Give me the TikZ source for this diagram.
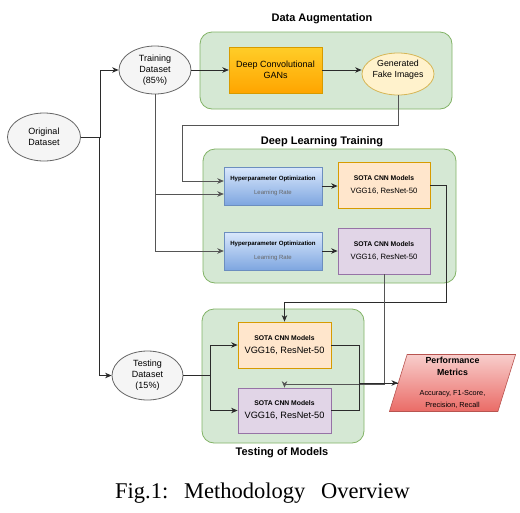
\documentclass[tikz,border=0pt]{standalone}
\usepackage{fontspec}
\setmainfont{Liberation Sans}
\newfontfamily\capfont{Liberation Serif}
\usetikzlibrary{arrows.meta,shapes.geometric}
\definecolor{grnF}{HTML}{D5E8D4}
\definecolor{grnD}{HTML}{82B366}
\definecolor{ellF}{HTML}{F5F5F5}
\definecolor{ellD}{HTML}{666666}
\definecolor{ganT}{HTML}{FFCD28}
\definecolor{ganB}{HTML}{FFA500}
\definecolor{ganD}{HTML}{D79B00}
\definecolor{fakF}{HTML}{FFF2CC}
\definecolor{fakD}{HTML}{D6B656}
\definecolor{hpT}{HTML}{DAE8FC}
\definecolor{hpB}{HTML}{7EA6E0}
\definecolor{hpD}{HTML}{6C8EBF}
\definecolor{orF}{HTML}{FFE6CC}
\definecolor{orD}{HTML}{D79B00}
\definecolor{puF}{HTML}{E1D5E7}
\definecolor{puD}{HTML}{9673A6}
\definecolor{pmT}{HTML}{F8CECC}
\definecolor{pmB}{HTML}{EA6B66}
\definecolor{pmD}{HTML}{B85450}
\definecolor{lnC}{HTML}{2B2B2B}
\definecolor{lnG}{HTML}{555555}
\tikzset{
  grp/.style={draw=grnD, fill=grnF, rounded corners=12pt, line width=0.8pt},
  ttl/.style={font=\fontsize{11}{13}\selectfont\bfseries},
  ell/.style={ellipse, draw=ellD, fill=ellF, inner sep=0pt, align=center, line width=0.8pt,
              font=\fontsize{9}{11}\selectfont},
  ganbox/.style={rectangle, draw=ganD, top color=ganT, bottom color=ganB, minimum width=93pt,
              minimum height=46pt, inner sep=0pt, align=center, font=\fontsize{9}{11}\selectfont},
  hpbox/.style={rectangle, draw=hpD, top color=hpT, bottom color=hpB, minimum width=98pt,
              minimum height=38pt, inner sep=0pt, align=center},
  sotabox/.style={rectangle, line width=0.8pt, minimum width=92pt, minimum height=46pt,
              inner sep=0pt, align=center},
  arr/.style={draw=lnC, line width=0.8pt, -{Stealth[length=6.5pt,width=5.5pt]}},
  ln/.style={draw=lnC, line width=0.8pt},
  arrg/.style={draw=lnG, line width=0.8pt, -{Stealth[length=6.5pt,width=5.5pt]}},
}
\newcommand{\hpsmall}{{\fontsize{6.1}{7}\selectfont\bfseries Hyperparameter Optimization}\\[2pt]{\fontsize{6}{7}\selectfont\color{ellD} Learning Rate}}
\begin{document}
\begin{tikzpicture}[x=1pt,y=-1pt]
\useasboundingbox[fill=white] (0,0) rectangle (520,512);
% groups
\draw[grp] (200,32) rectangle (452,109);
\draw[grp] (203,149) rectangle (456,283);
\draw[grp] (202,309) rectangle (364,443);
\node[ttl] (t1) at (322,19) {Data Augmentation};
\node[ttl] (t2) at (322,142) {Deep Learning Training};
\node[ttl] (t3) at (282,453) {Testing of Models};
% nodes
\node[ell, minimum width=73pt, minimum height=48pt] (orig) at (44,137) {Original\\Dataset};
\node[ell, minimum width=72pt, minimum height=48pt] (train) at (155,70) {Training\\Dataset\\(85\%)};
\node[ganbox] (gan) at (275.5,70) {Deep Convolutional\\GANs};
\node[ell, draw=fakD, fill=fakF, minimum width=72pt, minimum height=42pt,
      label={[align=center, yshift=4pt, font=\fontsize{8.8}{11}\selectfont]center:Generated\\Fake Images}] (fake) at (398,74) {};
\node[hpbox] (hp1) at (273,186) {\hpsmall};
\node[hpbox] (hp2) at (273,251) {\hpsmall};
\node[sotabox, draw=orD, fill=orF] (sota1) at (384,185)
  {{\fontsize{6.8}{8}\selectfont\bfseries SOTA CNN Models}\\[1pt]{\fontsize{7.7}{9}\selectfont VGG16, ResNet-50}};
\node[sotabox, draw=puD, fill=puF] (sota2) at (384,251)
  {{\fontsize{6.8}{8}\selectfont\bfseries SOTA CNN Models}\\[1pt]{\fontsize{7.7}{9}\selectfont VGG16, ResNet-50}};
\node[ell, minimum width=71pt, minimum height=49pt] (test) at (147.5,375.5) {Testing\\Dataset\\(15\%)};
\node[sotabox, draw=orD, fill=orF, minimum width=93pt] (tsota1) at (284.5,345)
  {{\fontsize{6.8}{8}\selectfont\bfseries SOTA CNN Models}\\[1pt]{\fontsize{9.2}{11}\selectfont VGG16, ResNet-50}};
\node[sotabox, draw=puD, fill=puF, minimum width=93pt, minimum height=45pt] (tsota2) at (284.5,410.5)
  {{\fontsize{6.8}{8}\selectfont\bfseries SOTA CNN Models}\\[1pt]{\fontsize{9.2}{11}\selectfont VGG16, ResNet-50}};
\node[trapezium, trapezium left angle=76, trapezium right angle=104, trapezium stretches=true,
      minimum width=127pt, minimum height=57pt, inner sep=0pt, draw=pmD, line width=0.6pt,
      top color=pmT, bottom color=pmB, align=center] (pm) at (452.5,383)
  {{\fontsize{8.8}{10}\selectfont\bfseries Performance}\\{\fontsize{8.8}{10}\selectfont\bfseries Metrics}\\[8pt]
   {\fontsize{7.3}{11.5}\selectfont Accuracy, F1-Score,}\\{\fontsize{7.3}{9}\selectfont Precision, Recall}};
% connectors
\draw[arr] (orig.east) -- ++(19,0) |- (train.west);
\draw[arr] (orig.east) -- ++(18,0) |- (test.west);
\draw[arr] (train.east) -- (gan.west);
\draw[arr] (gan.east) -- (fake.west |- gan.east);
\draw[arrg] (fake.south) -- ++(0,30) -- ++(-216,0) |- ([yshift=5pt]hp1.west);
\draw[arrg] (train.south) |- ([yshift=-8pt]hp1.west);
\draw[arrg] (train.south) |- (hp2.west);
\draw[arr] (hp1.east) -- (sota1.west |- hp1.east);
\draw[arr] (hp2.east) -- (sota2.west |- hp2.east);
\draw[arr] (sota1.east) -- ++(16,0) -- ++(0,117) -| (tsota1.north);
\draw[arrg] (sota2.south) -- ++(0,110) -| (tsota2.north);
\draw[arr] (test.east) -- ++(27,0) |- (tsota1.west);
\draw[arr] (test.east) -- ++(27,0) |- (tsota2.west);
\draw[ln] (tsota1.east) -- ++(28,0) |- (pm.west);
\draw[arr] (tsota2.east) -- ++(28,0) |- (pm.west);
% caption
\node[font=\capfont\fontsize{22.5}{26}\selectfont, anchor=base] (cap) at (262.5,498)
  {Fig.1:\hspace{0.7em}Methodology\hspace{0.7em}Overview};
\end{tikzpicture}
\end{document}
